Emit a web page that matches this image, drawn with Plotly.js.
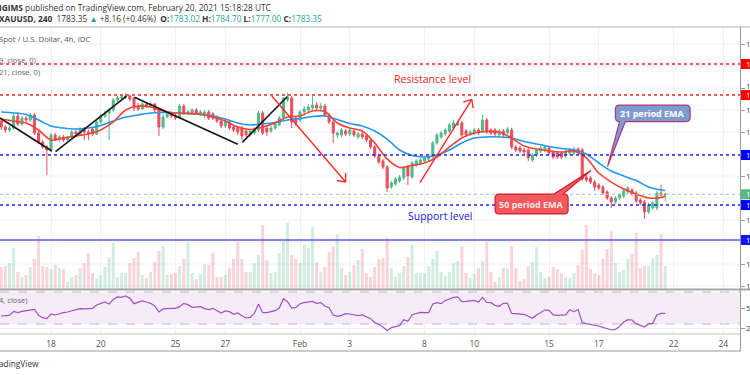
<!DOCTYPE html>
<html><head><meta charset="utf-8">
<script src="https://cdn.plot.ly/plotly-3.0.1.min.js"></script>
<style>html,body{margin:0;padding:0;background:#fff;overflow:hidden}#chart{width:750px;height:375px}</style>
</head><body><div id="chart"></div>
<script>
// ---------- data (4h candles, index 0 = first candle of Jan 18) ----------
const FIRST_INDEX = -12;
const openP = [1850.0,1844.5,1841.8,1843.6,1854.5,1847.3,1852.7,1850.9,1855.5,1839.1,1830.9,1826.4,
 1823.6,1837.3,1833.6,1835.5,1832.7,1835.5,1840.0,1838.2,1842.7,1840.0,1842.7,1838.2,
 1849.1,1854.5,1857.3,1860.0,1869.1,1870.9,1871.8,1872.7,1870.9,1863.6,1860.9,1865.5,
 1863.6,1865.5,1860.0,1844.5,1853.6,1856.4,1854.5,1852.7,1863.6,1857.3,1857.3,1860.0,
 1857.3,1855.5,1858.2,1856.4,1852.7,1850.0,1845.5,1849.1,1844.5,1843.6,1843.6,1840.9,
 1837.3,1839.1,1841.8,1857.3,1843.6,1840.9,1843.6,1846.4,1852.7,1869.1,1870.9,1852.7,
 1850.9,1858.2,1860.0,1861.8,1864.5,1861.8,1863.6,1855.5,1849.1,1837.3,1837.3,1840.9,
 1838.2,1840.9,1835.5,1838.2,1836.4,1832.7,1826.4,1818.2,1813.6,1808.2,1790.0,1792.7,
 1795.5,1798.2,1808.2,1799.1,1810.0,1811.8,1813.6,1815.5,1817.3,1830.0,1835.5,1838.2,
 1840.9,1843.6,1846.4,1848.2,1840.9,1838.2,1839.1,1841.8,1840.0,1850.9,1841.8,1841.8,
 1837.3,1840.9,1839.1,1841.8,1826.4,1825.5,1823.6,1823.6,1814.5,1819.1,1822.7,1823.6,
 1825.5,1821.8,1820.9,1820.9,1818.2,1820.9,1820.9,1824.5,1823.6,1799.1,1798.2,1794.5,
 1791.8,1790.0,1785.5,1780.0,1776.4,1780.0,1781.8,1785.5,1787.3,1784.5,1778.2,1776.4,
 1767.3,1770.9,1770.9,1784.5,1783.02];
const highP = [1852.7,1846.4,1845.5,1856.4,1858.2,1854.5,1854.5,1857.3,1857.3,1840.9,1832.7,1828.2,
 1839.1,1839.1,1837.3,1837.3,1836.4,1841.8,1841.8,1844.5,1844.5,1841.8,1844.5,1850.9,
 1856.4,1859.1,1861.8,1870.9,1872.7,1873.6,1875.5,1873.6,1871.8,1866.4,1867.3,1867.3,
 1867.3,1866.4,1861.8,1856.4,1858.2,1858.2,1856.4,1865.5,1865.5,1860.0,1861.8,1861.8,
 1860.0,1860.0,1860.0,1858.2,1855.5,1851.8,1851.8,1850.9,1846.4,1845.5,1845.5,1842.7,
 1842.7,1844.5,1859.1,1859.1,1845.5,1845.5,1849.1,1854.5,1871.8,1875.5,1872.7,1854.5,
 1860.0,1863.6,1865.5,1872.7,1867.3,1866.4,1865.5,1857.3,1850.9,1840.9,1843.6,1842.7,
 1843.6,1842.7,1840.0,1840.0,1838.2,1834.5,1828.2,1820.0,1815.5,1810.0,1795.5,1799.1,
 1800.9,1809.1,1810.0,1813.6,1815.5,1816.4,1818.2,1819.1,1831.8,1839.1,1840.9,1843.6,
 1848.2,1850.9,1850.0,1850.0,1842.7,1841.8,1843.6,1843.6,1855.5,1852.7,1843.6,1843.6,
 1842.7,1842.7,1844.5,1843.6,1828.2,1827.3,1825.5,1825.5,1820.9,1825.5,1827.3,1828.2,
 1827.3,1823.6,1822.7,1822.7,1823.6,1825.5,1826.4,1826.4,1825.5,1800.9,1800.0,1796.4,
 1793.6,1791.8,1787.3,1781.8,1781.8,1784.5,1788.2,1790.9,1789.1,1786.4,1780.0,1778.2,
 1775.5,1777.3,1786.4,1791.8,1784.70];
const lowP = [1841.8,1839.1,1840.0,1841.8,1845.5,1845.5,1849.1,1849.1,1837.3,1829.1,1824.5,1800.9,
 1821.8,1831.8,1830.9,1830.9,1831.8,1834.5,1835.5,1836.4,1832.7,1832.7,1836.4,1837.3,
 1847.3,1852.7,1832.7,1858.2,1867.3,1869.1,1870.0,1868.2,1859.1,1859.1,1860.0,1861.8,
 1862.7,1858.2,1836.4,1842.7,1852.7,1852.7,1850.9,1851.8,1855.5,1855.5,1856.4,1855.5,
 1854.5,1852.7,1850.9,1850.9,1848.2,1843.6,1843.6,1841.8,1840.0,1837.3,1832.7,1835.5,
 1835.5,1837.3,1840.0,1837.3,1836.4,1839.1,1841.8,1845.5,1850.9,1867.3,1843.6,1845.5,
 1849.1,1856.4,1858.2,1860.0,1860.0,1860.0,1853.6,1847.3,1830.0,1834.5,1835.5,1836.4,
 1836.4,1835.5,1833.6,1833.6,1830.9,1824.5,1816.4,1810.9,1806.4,1785.5,1788.2,1790.9,
 1793.6,1796.4,1791.8,1797.3,1808.2,1810.0,1811.8,1813.6,1816.4,1828.2,1833.6,1836.4,
 1839.1,1841.8,1845.5,1835.5,1835.5,1836.4,1837.3,1837.3,1839.1,1838.2,1837.3,1836.4,
 1835.5,1835.5,1838.2,1824.5,1821.8,1820.9,1820.0,1813.6,1812.7,1817.3,1820.9,1821.8,
 1819.1,1815.5,1815.5,1815.5,1816.4,1819.1,1819.1,1819.1,1795.5,1794.5,1792.7,1786.4,
 1787.3,1782.7,1778.2,1770.9,1774.5,1778.2,1780.0,1783.6,1781.8,1775.5,1773.6,1760.9,
 1765.5,1769.1,1769.1,1780.9,1777.00];
const closeP = [1844.5,1841.8,1843.6,1854.5,1847.3,1852.7,1850.9,1855.5,1839.1,1830.9,1826.4,1823.6,
 1837.3,1833.6,1835.5,1832.7,1835.5,1840.0,1838.2,1842.7,1840.0,1839.1,1838.2,1849.1,
 1854.5,1857.3,1860.0,1869.1,1870.9,1871.8,1872.7,1870.0,1861.8,1860.9,1865.5,1863.6,
 1865.5,1860.0,1844.5,1853.6,1856.4,1854.5,1852.7,1863.6,1857.3,1858.2,1860.0,1857.3,
 1858.2,1858.2,1852.7,1852.7,1850.0,1845.5,1850.0,1843.6,1841.8,1840.0,1836.4,1837.3,
 1840.9,1842.7,1857.3,1839.1,1840.0,1843.6,1847.3,1852.7,1870.9,1871.8,1849.1,1848.2,
 1858.2,1860.9,1862.7,1864.5,1861.8,1863.6,1855.5,1849.1,1839.1,1839.1,1841.8,1838.2,
 1841.8,1837.3,1838.2,1835.5,1832.7,1826.4,1818.2,1812.7,1808.2,1789.1,1793.6,1797.3,
 1799.1,1807.3,1800.0,1811.8,1813.6,1814.5,1816.4,1817.3,1830.0,1837.3,1839.1,1841.8,
 1846.4,1848.2,1848.2,1837.3,1837.3,1840.0,1841.8,1839.1,1850.9,1840.0,1839.1,1838.2,
 1840.9,1837.3,1842.7,1826.4,1823.6,1822.7,1821.8,1816.4,1819.1,1823.6,1825.5,1826.4,
 1820.9,1817.3,1817.3,1817.3,1821.8,1823.6,1824.5,1820.9,1797.3,1796.4,1794.5,1790.0,
 1789.1,1784.5,1780.0,1776.4,1780.0,1782.7,1786.4,1789.1,1783.6,1777.3,1775.5,1767.3,
 1773.6,1775.5,1784.5,1782.7,1783.35];
const volumeK = [22,23,26,41,17,12,14,22,30,53,23,22,
 20,24,21,20,7,12,14,21,26,36,16,11,
 14,22,32,46,12,16,16,26,31,37,14,11,
 17,27,38,43,14,15,16,23,30,47,16,10,
 15,25,24,36,12,12,14,21,30,47,30,17,
 17,26,34,64,29,16,17,36,48,66,34,30,
 26,44,41,62,27,17,22,37,42,55,21,14,
 17,24,29,40,16,12,22,30,31,51,21,12,
 16,23,32,44,16,16,16,23,30,38,17,13,
 17,26,28,43,16,11,15,21,28,47,17,7,
 12,21,20,43,21,8,10,23,27,42,17,11,
 12,22,20,16,12,11,16,24,39,64,20,16,
 14,30,40,58,26,17,19,30,35,56,21,23,
 23,31,34,55,23];
const rsi14 = [40,40,40.8,45.8,44.2,45.8,46.7,47.5,48.3,40.8,37.9,36.7,
 42.5,41.3,42.9,44.2,45,46.3,47.5,49.2,48.8,49.2,49.6,53.8,
 55.4,57.5,55,60.8,63.8,63.3,65,62.1,55.4,56.7,58.8,57.5,
 55.8,52.5,45,48.8,49.6,49.6,49.6,51.7,55.8,54.2,50.8,50.8,
 51.7,49.2,47.9,49.6,46.7,43.8,46.3,45.4,42.1,43.8,40.4,37.5,
 38.3,43.3,55,44.2,44.2,45,46.7,50,61.7,57.9,50,50.8,
 55.4,56.7,57.5,58.3,55.8,56.7,52.5,50.4,41.3,39.6,40.8,42.9,
 42.5,41.7,40.4,41.3,39.2,36.7,31.7,29.6,26.3,21.7,25.4,26.7,
 27.9,35.4,33.3,41.7,43.3,44.6,44.2,44.2,55,56.7,55.4,59.2,
 61.3,63.3,63.8,57.9,58.3,58.8,59.6,57.5,63.3,57.1,56.7,53.3,
 52.1,55.8,55.8,43.3,42.9,42.5,42.1,39.6,37.1,41.3,44.6,47.5,
 47.1,41.3,40.8,41.3,41.3,47.9,45.4,48.3,31.7,30.4,29.6,28.8,
 27.5,25.8,23.8,22.5,23.3,26.7,32.5,35.4,35,30.4,28.3,26.3,
 30.4,30.8,41.3,43.3,43.3];
const emaIdx = [-12,-9,-6,-3,0,3,6,9,12,15,18,21,24,27,30,33,36,39,42,45,48,51,54,57,60,63,66,69,72,75,
 78,81,84,87,90,93,96,99,102,105,108,111,114,117,120,123,126,129,132,135,138,141,144,147,148];
const emaBlue = [1858.2,1857.3,1855.9,1850.9,1845.5,1843.6,1842.7,1843.6,1845.9,1850.0,1853.6,1855.5,1857.3,1857.7,
 1857.3,1856.8,1855.9,1854.5,1851.8,1848.2,1846.4,1847.3,1848.6,1850.9,1852.3,1854.1,1854.5,1851.4,1847.7,1845.5,
 1840.9,1833.6,1823.6,1818.6,1817.3,1819.1,1823.6,1830.0,1834.5,1835.5,1835.5,1834.5,1831.4,1829.1,1826.8,1825.0,
 1823.6,1820.0,1811.8,1804.5,1800.0,1795.9,1790.0,1787.3,1786.8];
const emaRed = [1851.8,1850.0,1848.2,1841.8,1832.7,1834.5,1836.4,1838.2,1841.8,1849.1,1860.0,1863.6,1862.7,1859.1,
 1857.3,1856.8,1856.4,1853.6,1850.0,1844.5,1842.3,1844.5,1848.2,1853.6,1854.5,1859.1,1858.6,1848.2,1843.6,1840.9,
 1830.0,1815.5,1807.7,1809.5,1811.8,1817.3,1826.4,1834.5,1839.1,1840.5,1840.0,1834.5,1827.3,1824.5,1822.7,1821.8,
 1822.7,1816.4,1802.7,1794.5,1788.2,1783.6,1780.0,1780.5,1781.8];
const tickIdx = [0,12,30,42,60,72,90,102,120,132,150,162];
const tickLabels = ['18','20','25','27','Feb','3','8','10','15','17','22','24'];
// price scale: only the first character of each label is inside the picture
const priceTicks = [1700,1720,1740,1760,1780,1800,1820,1840,1860,1880,1900,1920];
const priceLabelTicks = [1700,1720,1760,1800,1840,1860,1880,1920];
const priceLabelText = ['1','1','1','1','1','1','1','1'];
const rsiTicks = [25,50];
const rsiTickText = ['2','5'];
const resistancePrices = [1901.8, 1873.6];
const supportPrices = [1819.1, 1773.6];
const horizontalPrice = 1741.8;
const lastPrice = 1783.35;
// trend drawings: [idx0, price0, idx1, price1]
const blackTrendLines = [[-12.3,1852.7,0.2,1822.7],[1.1,1822.1,18.2,1872.7],[20.1,1871.5,45.0,1828.8],[46.1,1830.6,56.9,1872.1]];
const redArrows = [[53.2,1872.7,71.0,1794.5],[88.9,1793.9,101.4,1869.7]];

// ---------- helpers ----------
const W = 740, TOP = 27, BOT = 351, H = BOT - TOP;
const px = x => x / W;
const py = y => (BOT - y) / H;
const idx = openP.map((_, k) => k + FIRST_INDEX);
const UP = '#53b987', DOWN = '#eb4d5c';
const volColors = closeP.map((c, k) => c >= openP[k] ? 'rgba(83,185,135,0.26)' : 'rgba(235,77,92,0.24)');
const FONT = 'Open Sans, Roboto, sans-serif';

const traces = [
  {type:'bar', x:idx, y:volumeK, xaxis:'x', yaxis:'y', marker:{color:volColors, line:{width:0}}, width:0.72, hoverinfo:'skip'},
  {type:'candlestick', x:idx, open:openP, high:highP, low:lowP, close:closeP, xaxis:'x', yaxis:'y2',
   increasing:{line:{color:UP,width:1}, fillcolor:UP}, decreasing:{line:{color:DOWN,width:1}, fillcolor:DOWN},
   whiskerwidth:0, hoverinfo:'skip'},
  {type:'scatter', mode:'lines', x:emaIdx, y:emaBlue, xaxis:'x', yaxis:'y2', line:{color:'#2196f3', width:1.6, shape:'spline', smoothing:0.8}, hoverinfo:'skip'},
  {type:'scatter', mode:'lines', x:emaIdx, y:emaRed, xaxis:'x', yaxis:'y2', line:{color:'#f44336', width:1.6, shape:'spline', smoothing:0.8}, hoverinfo:'skip'},
  {type:'scatter', mode:'lines', x:idx, y:rsi14, xaxis:'x', yaxis:'y3', line:{color:'#a44fc4', width:1.2}, hoverinfo:'skip'}
];

const shapes = [];
for (let g = 1700; g <= 1920; g += 20) {
  shapes.push({type:'line', xref:'paper', x0:0, x1:1, yref:'y2', y0:g, y1:g, line:{color:'#edf1f6', width:1}, layer:'below'});
}
shapes.push({type:'rect', xref:'paper', x0:0, x1:1, yref:'y3', y0:30, y1:70, fillcolor:'rgba(156,39,176,0.09)', line:{width:0}, layer:'below'});
[70,30].forEach(v => shapes.push({type:'line', xref:'paper', x0:0, x1:1, yref:'y3', y0:v, y1:v, line:{color:'#c7b2cf', width:1, dash:'dash'}, layer:'below'}));
resistancePrices.forEach(p => shapes.push({type:'line', xref:'paper', x0:0, x1:1, yref:'y2', y0:p, y1:p, line:{color:'#ff2020', width:1.6, dash:'dot'}, layer:'above'}));
supportPrices.forEach(p => shapes.push({type:'line', xref:'paper', x0:0, x1:1, yref:'y2', y0:p, y1:p, line:{color:'#2323e8', width:1.6, dash:'dot'}, layer:'above'}));
shapes.push({type:'line', xref:'paper', x0:0, x1:1, yref:'y2', y0:lastPrice, y1:lastPrice, line:{color:'#8fd0a8', width:1, dash:'dot'}, layer:'above'});
shapes.push({type:'line', xref:'paper', x0:0, x1:1, yref:'y2', y0:horizontalPrice, y1:horizontalPrice, line:{color:'#5b5be0', width:1.5}, layer:'above'});
blackTrendLines.forEach(l => shapes.push({type:'line', xref:'x', yref:'y2', x0:l[0], y0:l[1], x1:l[2], y1:l[3], line:{color:'#151515', width:1.6}, layer:'above'}));
redArrows.forEach(l => shapes.push({type:'line', xref:'x', yref:'y2', x0:l[0], y0:l[1], x1:l[2], y1:l[3], line:{color:'#ff2a2a', width:1.4}, layer:'above'}));
const heads = [[redArrows[0], [[-8.9,1.5],[-0.1,9.0]]], [redArrows[1], [[-8.6,-2.8],[1.3,-8.9]]]];
heads.forEach(h => h[1].forEach(a => shapes.push({type:'line', xref:'x', yref:'y2', xsizemode:'pixel', ysizemode:'pixel',
  xanchor:h[0][2], yanchor:h[0][3], x0:0, y0:0, x1:a[0], y1:a[1], line:{color:'#ff2a2a', width:1.4}, layer:'above'})));
function callout(x0,x1,yB,yT,tail){
  const rx = 0.96, ry = 3.6;
  let d = `M${x0+rx},${yT}`;
  if (tail.side==='top') d += ` L${tail.a},${yT} L${tail.tx},${tail.ty} L${tail.b},${yT}`;
  d += ` L${x1-rx},${yT} Q${x1},${yT} ${x1},${yT-ry} L${x1},${yB+ry} Q${x1},${yB} ${x1-rx},${yB}`;
  if (tail.side==='bottom') d += ` L${tail.b},${yB} L${tail.tx},${tail.ty} L${tail.a},${yB}`;
  d += ` L${x0+rx},${yB} Q${x0},${yB} ${x0},${yB+ry} L${x0},${yT-ry} Q${x0},${yT} ${x0+rx},${yT} Z`;
  return d;
}
shapes.push({type:'path', xref:'x', yref:'y2', path:callout(136.0,154.0,1849.5,1864.5,{side:'bottom',a:137.0,b:138.4,tx:134.1,ty:1808.6}),
  fillcolor:'#7e9bd0', line:{color:'#b3387a', width:1.2}, layer:'above'});
shapes.push({type:'path', xref:'x', yref:'y2', path:callout(107.0,124.6,1765.5,1783.6,{side:'top',a:121.2,b:123.4,tx:130.1,ty:1805.0}),
  fillcolor:'#f2595f', line:{color:'#d41f2a', width:1.2}, layer:'above'});
// frame lines
shapes.push({type:'line', xref:'paper', yref:'paper', x0:0, x1:750/W, y0:py(27), y1:py(27), line:{color:'#b4b4b4', width:1}, layer:'above'});
shapes.push({type:'line', xref:'paper', yref:'paper', x0:0, x1:750/W, y0:py(289.5), y1:py(289.5), line:{color:'#a6a6a6', width:2}, layer:'above'});
shapes.push({type:'line', xref:'paper', yref:'paper', x0:0, x1:px(741), y0:py(334), y1:py(334), line:{color:'#c4c4c4', width:1}, layer:'above'});
shapes.push({type:'line', xref:'paper', yref:'paper', x0:0, x1:px(741), y0:py(351), y1:py(351), line:{color:'#9a9a9a', width:1.2}, layer:'above'});
shapes.push({type:'line', xref:'paper', yref:'paper', x0:px(740.5), x1:px(740.5), y0:py(27), y1:py(351), line:{color:'#9a9a9a', width:1}, layer:'above'});
// price-scale label boxes (run past the right edge of the picture)
const boxes = [[resistancePrices[0],'#ff0000'],[resistancePrices[1],'#ff0000'],[supportPrices[0],'#0000ff'],
  [supportPrices[1],'#0000ff'],[horizontalPrice,'#1515ee'],[lastPrice,'#53b987']];
boxes.forEach(b => shapes.push({type:'rect', xref:'paper', x0:px(741), x1:px(756), yref:'y2', ysizemode:'pixel', yanchor:b[0],
  y0:-5, y1:5, fillcolor:b[1], line:{width:0}, layer:'above'}));

const annotations = [];
const txt = (x, y, text, size, color) => annotations.push({xref:'paper', yref:'paper', x:px(x), y:py(y), xanchor:'left', yanchor:'middle',
  text, showarrow:false, font:{family:FONT, size, color}, borderpad:0});
const T = '#26a69a';
txt(-2, 7.5, '<b>IGIMS</b> published on TradingView.com, February 20, 2021 15:18:28 UTC', 8.3, '#333');
txt(-2, 18.5, `<b>XAUUSD, 240</b>&nbsp; 1783.35 <span style="color:${T}">▲</span> +8.16 (+0.46%)&nbsp; <b>O:</b><span style="color:${T}">1783.02</span> <b>H:</b><span style="color:${T}">1784.70</span> <b>L:</b><span style="color:${T}">1777.00</span> <b>C:</b><span style="color:${T}">1783.35</span>`, 8.3, '#333');
txt(-2, 38.5, 'Spot / U.S. Dollar, 4h, IDC', 7.8, '#555');
txt(-2, 60, '9, close, 0)', 7.6, '#666');
txt(-2, 71.5, '21, close, 0)', 7.6, '#666');
txt(-2, 300, '4, close)', 7.6, '#666');
txt(-2, 363.5, 'adingView', 8.3, '#333');
annotations.push({xref:'x', yref:'y2', x:92.0, y:1888.2, text:'Resistance level', showarrow:false, font:{family:FONT, size:10.5, color:'#ff1a1a'}});
annotations.push({xref:'x', yref:'y2', x:93.7, y:1763.2, text:'Support level', showarrow:false, font:{family:FONT, size:10.5, color:'#2020e0'}});
annotations.push({xref:'x', yref:'y2', x:145.0, y:1857.0, text:'<b>21 period EMA</b>', showarrow:false, font:{family:FONT, size:9, color:'#ffffff'}});
annotations.push({xref:'x', yref:'y2', x:115.8, y:1774.5, text:'<b>50 period EMA</b>', showarrow:false, font:{family:FONT, size:9, color:'#fde4e4'}});
// scale labels (visible first character only)
priceLabelTicks.forEach((p, k) => annotations.push({xref:'paper', yref:'y2', x:px(745), y:p, xanchor:'left', yanchor:'middle',
  yshift: p === 1880 ? 2 : 0, text:priceLabelText[k], showarrow:false, borderpad:0, font:{family:FONT, size:7.8, color:'#444'}}));
rsiTicks.forEach((r, k) => annotations.push({xref:'paper', yref:'y3', x:px(745), y:r, xanchor:'left', yanchor:'middle',
  text:rsiTickText[k], showarrow:false, borderpad:0, font:{family:FONT, size:7.8, color:'#444'}}));
boxes.forEach(b => annotations.push({xref:'paper', yref:'y2', x:px(744.5), y:b[0], xanchor:'left', yanchor:'middle',
  text:'1', showarrow:false, borderpad:0, font:{family:FONT, size:7.8, color:'#ffffff'}}));

const layout = {
  width:750, height:375, margin:{l:0, r:10, t:TOP, b:375-BOT, pad:0},
  paper_bgcolor:'#fff', plot_bgcolor:'#fff', showlegend:false, dragmode:false,
  font:{family:FONT, size:8.5, color:'#444'},
  xaxis:{range:[-12.29,166.02], domain:[0,1], anchor:'y3', tickmode:'array', tickvals:tickIdx, ticktext:tickLabels, ticks:'',
    ticklabelstandoff:3, showgrid:true, gridcolor:'#edf1f6', gridwidth:1, zeroline:false, showline:false, tickfont:{size:8.5, color:'#555'},
    rangeslider:{visible:false}, fixedrange:true},
  yaxis:{domain:[py(289), 1], range:[0,262], visible:false, fixedrange:true},
  yaxis2:{overlaying:'y', side:'right', anchor:'x', range:[1697.27,1935.45], tickmode:'array', tickvals:priceTicks,
    showticklabels:false, ticks:'outside', ticklen:4, tickcolor:'#999', showgrid:false,
    zeroline:false, showline:false, fixedrange:true},
  yaxis3:{domain:[py(334), py(291)], range:[17.5,71.25], side:'right', anchor:'x', tickmode:'array', tickvals:rsiTicks,
    showticklabels:false, ticks:'outside', ticklen:4, tickcolor:'#999', showgrid:true, gridcolor:'#edf1f6', zeroline:false, showline:false,
    fixedrange:true},
  shapes, annotations
};
Plotly.newPlot('chart', traces, layout, {staticPlot:true, displayModeBar:false});
</script>
</body></html>
